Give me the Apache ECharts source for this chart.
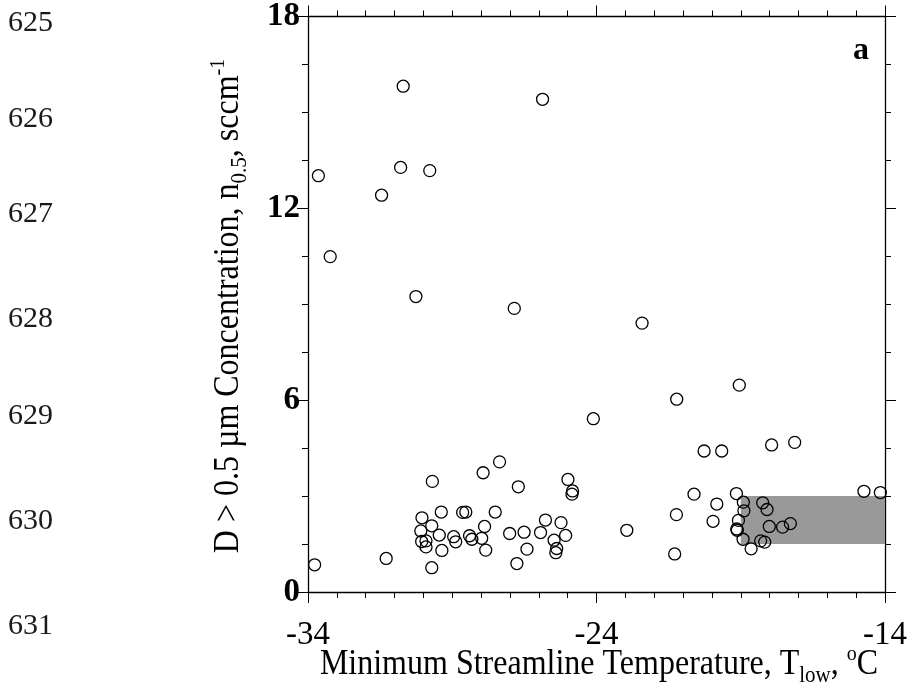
<!DOCTYPE html>
<html><head><meta charset="utf-8">
<script src="https://cdn.jsdelivr.net/npm/echarts@6/dist/echarts.min.js"></script>
<style>html,body{margin:0;padding:0;background:#fff}#c{width:910px;height:691px}</style>
</head><body><div id="c"></div>
<script>
// ---- data ----
const tempLow = [-30.70,-25.87,-33.64,-30.79,-29.78,-31.45,-33.23,-30.26,-26.85,-22.42,
  -19.05,-21.22,-24.11,-20.27,-19.66,-17.93,-17.13,-27.36,-27.93,-29.69,
  -26.71,-24.99,-24.83,-24.85,-14.73,-14.16,-20.62,-19.15,-19.83,-18.91,
  -18.89,-18.24,-18.09,-21.23,-19.96,-19.08,-19.14,-19.12,-22.95,-18.01,
  -17.55,-17.28,-18.92,-18.31,-18.17,-18.64,-21.29,-29.38,-28.64,-28.53,
  -27.51,-30.05,-30.09,-29.71,-29.45,-28.95,-28.88,-28.40,-28.32,-27.98,
  -27.88,-27.84,-27.01,-26.51,-26.41,-26.76,-25.94,-25.77,-25.23,-25.47,
  -25.07,-25.38,-25.41,-30.06,-29.91,-29.91,-29.36,-29.71,-31.29,-33.77];
const conc05 = [15.82,15.41,13.02,13.28,13.18,12.41,10.49,9.24,8.87,8.41,
  6.47,6.03,5.42,4.41,4.41,4.60,4.68,4.07,3.73,3.46,
  3.29,3.52,3.16,3.06,3.15,3.11,3.06,3.08,2.75,2.81,
  2.54,2.79,2.58,2.42,2.21,2.24,1.97,1.93,1.93,2.05,
  2.03,2.14,1.65,1.60,1.56,1.35,1.19,2.50,2.49,2.50,
  2.50,2.32,1.91,2.07,1.78,1.73,1.57,1.76,1.65,1.68,
  2.05,1.31,1.83,1.87,1.34,0.89,1.86,2.25,2.17,1.62,
  1.77,1.36,1.23,1.58,1.60,1.41,1.30,0.76,1.05,0.85];
const shadedBox = [[-19, 1.5, -14, 3.0]]; // xFrom, yFrom, xTo, yTo
const xTickLabels = ['-34', '-24', '-14'];
const yTickLabels = ['0', '6', '12', '18'];
const lineNumbers = ['625', '626', '627', '628', '629', '630', '631'];
const panelLabel = 'a';
const xTitle = 'Minimum Streamline Temperature, T{sub|low}, {sup|o}C';
const yTitle = 'D > 0.5 \u00b5m Concentration, n{sub|0.5}, sccm{sup|-1}';

// ---- layout ----
const X_MIN = -34, X_MAX = -14, Y_MIN = 0, Y_MAX = 18;
const FONT = "'Liberation Serif','Times New Roman',serif";
const lineNumberY = [23, 119, 214, 319, 416, 521, 626];

const chart = echarts.init(document.getElementById('c'), null, {renderer: 'canvas'});
const black = '#000';
function axisBase(extra) {
  return Object.assign({
    type: 'value', splitLine: {show: false},
    axisLine: {show: false, onZero: false, lineStyle: {color: black, width: 1.3}},
    axisTick: {show: true, inside: false, length: 6, lineStyle: {color: black, width: 1}},
    axisLabel: {show: false}
  }, extra);
}
const majorTick = {show: true, inside: false, length: 11, lineStyle: {color: black, width: 1}};
const lineOn = {show: true, onZero: false, lineStyle: {color: black, width: 1.3}};

const xAxes = [
  axisBase({position: 'bottom', min: X_MIN, max: X_MAX, interval: 1, axisLine: lineOn}),
  axisBase({position: 'bottom', min: 0, max: X_MAX - X_MIN, interval: 10, axisTick: majorTick,
    axisLabel: {show: true, margin: 27, fontFamily: FONT, fontSize: 33, color: black,
      formatter: v => xTickLabels[Math.round(v / 10)]}}),
  axisBase({position: 'top', min: X_MIN, max: X_MAX, interval: 1, axisLine: lineOn}),
  axisBase({position: 'top', min: 0, max: X_MAX - X_MIN, interval: 10, axisTick: majorTick})
];
const yAxes = [
  axisBase({position: 'left', min: Y_MIN, max: Y_MAX, interval: 1.5, axisLine: lineOn}),
  axisBase({position: 'left', min: Y_MIN, max: Y_MAX, interval: 6, axisTick: majorTick,
    axisLabel: {show: true, margin: 8, fontFamily: FONT, fontSize: 33, fontWeight: 'bold', color: black,
      formatter: v => yTickLabels[Math.round(v / 6)]}}),
  axisBase({position: 'right', min: Y_MIN, max: Y_MAX, interval: 1.5, axisLine: lineOn}),
  axisBase({position: 'right', min: Y_MIN, max: Y_MAX, interval: 6, axisTick: majorTick})
];

const points = tempLow.map((t, i) => [t, conc05[i]]);

const subRich = {
  sub: {fontFamily: FONT, fontSize: 21, lineHeight: 21, verticalAlign: 'bottom', fill: black},
  sup: {fontFamily: FONT, fontSize: 20, lineHeight: 20, verticalAlign: 'top', fill: black}
};

const graphics = lineNumbers.map((s, i) => ({
  type: 'text', x: 8, y: lineNumberY[i],
  style: {text: s, fontFamily: FONT, fontSize: 30, fill: '#1a1a1a', align: 'left', verticalAlign: 'middle'}
}));
graphics.push({
  type: 'text', x: 599, y: 665, scaleY: 1.1,
  style: {text: xTitle, fontFamily: FONT, fontSize: 32, lineHeight: 40, fill: black,
    align: 'center', verticalAlign: 'middle', rich: subRich}
});
graphics.push({
  type: 'text', x: 229, y: 306, rotation: Math.PI / 2, scaleY: 1.1,
  style: {text: yTitle, fontFamily: FONT, fontSize: 32, lineHeight: 40, fill: black,
    align: 'center', verticalAlign: 'middle', rich: subRich}
});
graphics.push({
  type: 'text', x: 861, y: 51,
  style: {text: panelLabel, fontFamily: FONT, fontSize: 32, fontWeight: 'bold', fill: black,
    align: 'center', verticalAlign: 'middle'}
});

chart.setOption({
  animation: false,
  backgroundColor: '#fff',
  grid: {left: 308, top: 15, width: 577, height: 577, containLabel: false},
  xAxis: xAxes,
  yAxis: yAxes,
  graphic: graphics,
  series: [
    {
      type: 'custom', xAxisIndex: 0, yAxisIndex: 0, z: 1, silent: true, clip: false,
      encode: {x: [0, 2], y: [1, 3]},
      data: shadedBox,
      renderItem: (params, api) => {
        const p0 = api.coord([api.value(0), api.value(3)]);
        const p1 = api.coord([api.value(2), api.value(1)]);
        return {type: 'rect', shape: {x: p0[0], y: p0[1], width: p1[0] - p0[0], height: p1[1] - p0[1]},
          style: {fill: '#999999'}};
      }
    },
    {
      type: 'scatter', xAxisIndex: 0, yAxisIndex: 0, z: 3,
      symbol: 'circle', symbolSize: 12,
      itemStyle: {color: 'rgba(0,0,0,0)', borderColor: black, borderWidth: 1.3, opacity: 1},
      data: points
    }
  ]
});
</script></body></html>
